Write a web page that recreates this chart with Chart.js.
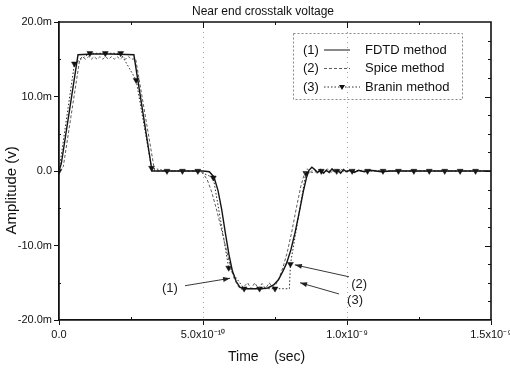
<!DOCTYPE html>
<html>
<head>
<meta charset="utf-8">
<script src="https://cdn.jsdelivr.net/npm/chart.js@4.4.1/dist/chart.umd.min.js"></script>
<style>
  html, body { margin: 0; padding: 0; background: #fff; }
  #wrap { width: 510px; height: 371px; position: relative; }
</style>
</head>
<body>
<div id="wrap"><canvas id="crosstalk" width="510" height="371"></canvas></div>
<script>
// time in ns, amplitude in mV
const fdtdTime = [0, 0.008, 0.066, 0.12, 0.18, 0.26, 0.323, 0.4, 0.5,
  0.522, 0.538, 0.552, 0.565, 0.578, 0.59, 0.602, 0.615, 0.628, 0.64,
  0.7, 0.725, 0.745, 0.762, 0.778, 0.79, 0.805, 0.82, 0.835, 0.848,
  0.86, 0.868, 0.878, 0.888, 0.898, 0.908, 0.918, 0.928, 0.938, 0.948,
  0.958, 0.968, 0.978, 0.988, 0.998, 1.01, 1.025, 1.04, 1.06, 1.08,
  1.1, 1.12, 1.15, 1.2, 1.5];
const fdtdVolt = [0, 1.0, 15.6, 15.7, 15.7, 15.6, 0, 0, 0,
  -0.1, -0.8, -2.6, -5.2, -8.4, -11.2, -13.4, -14.8, -15.6, -15.8,
  -15.8, -15.7, -15.3, -14.6, -13.4, -12.4, -10.6, -8.2, -5.4, -2.8,
  -0.8, 0.1, 0.5, 0.2, -0.2, 0.2, -0.3, 0.1, -0.2, 0.3,
  -0.1, 0.1, -0.3, 0.2, -0.1, 0.1, -0.2, 0.1, -0.1, 0.1,
  0, -0.1, 0, 0, 0];

const spiceTime = [0, 0.015, 0.072,
  0.082, 0.092, 0.102, 0.112, 0.122, 0.132, 0.142, 0.152, 0.162,
  0.172, 0.182, 0.192, 0.202, 0.212, 0.222, 0.232, 0.242, 0.252,
  0.266, 0.332, 0.4, 0.488,
  0.5, 0.515, 0.53, 0.55, 0.57, 0.59, 0.608, 0.622, 0.634, 0.645,
  0.655, 0.667, 0.68, 0.692, 0.705, 0.717, 0.73, 0.74, 0.752, 0.765,
  0.778, 0.792, 0.808, 0.824, 0.84, 0.852, 0.862, 0.872, 0.884, 0.896,
  0.908, 0.92, 0.932, 0.944, 0.956, 0.968, 0.98, 0.995, 1.01, 1.03,
  1.05, 1.07, 1.09, 1.12, 1.16, 1.2, 1.5];
const spiceVolt = [0, 0.6, 15.0,
  15.35, 15.0, 15.35, 15.0, 15.35, 15.0, 15.35, 15.0, 15.35,
  15.0, 15.35, 15.0, 15.35, 15.0, 15.35, 15.0, 15.35, 15.0,
  15.1, 0, 0, 0,
  -0.3, -1.2, -2.8, -5.6, -8.8, -12, -14.4, -15.5, -15.9, -15.4,
  -15.0, -15.8, -15.0, -15.8, -15.1, -15.8, -15.0, -15.6, -15.3, -14.3,
  -12.9, -11.0, -8.2, -5.0, -2.0, -0.4, 0.3, -0.2, 0.3, -0.3,
  0.2, -0.3, 0.3, -0.2, 0.2, -0.2, 0.2, -0.1, 0.2, -0.1,
  0.1, -0.1, 0.1, 0, 0, 0, 0];

const braninStep = 1.5 / 28;
const braninTime = [0, 0.0536, 0.1071, 0.1607, 0.2143, 0.2679, 0.3214, 0.375, 0.4286, 0.4821,
  0.5357, 0.5893, 0.6429, 0.6964, 0.75, 0.80,
  0.8036, 0.8571, 0.9107, 0.9643, 1.0179, 1.0714, 1.125, 1.1786, 1.2321, 1.2857,
  1.3393, 1.3929, 1.4464, 1.5];
const braninVolt = [0, 14.4, 15.8, 15.8, 15.8, 12.2, 0.4, 0, 0, 0,
  -0.9, -13, -15.8, -15.8, -15.8, -15.8,
  -12.5, -0.3, 0, 0, 0, 0, 0, 0, 0, 0,
  0, 0, 0, 0];

const xTicks = [0, 0.5, 1.0, 1.5];
const xTickLabels = ['0.0', '5.0x10\u207B\u00B9\u2070', '1.0x10\u207B\u2079', '1.5x10\u207B\u2079'];
const xMinor = [0.25, 0.75, 1.25];
const yMinor = [-17.5, -15, -12.5, -7.5, -5, -2.5, 2.5, 5, 7.5, 12.5, 15, 17.5];
const gridTimes = [0.5, 1.0];

const seriesNums = ['(1)', '(2)', '(3)'];
const seriesNames = ['FDTD method', 'Spice method', 'Branin method'];

// callouts in data units: label centre, arrow tail, arrow tip
const callouts = [
  { label: '(1)', at: [0.385, -15.7], tail: [0.4375, -15.4], tip: [0.594, -14.4] },
  { label: '(2)', at: [1.042, -15.2], tail: [1.007, -14.2], tip: [0.819, -12.6] },
  { label: '(3)', at: [1.028, -17.4], tail: [0.972, -16.5], tip: [0.837, -15.0] }
];

const FONT = "'Liberation Sans', Arial, sans-serif";
const pts = (xs, ys) => xs.map((t, i) => ({ x: t, y: ys[i] }));
const isMarker = t => Math.abs(t / braninStep - Math.round(t / braninStep)) < 0.002 && t < 1.49;

const styles = [
  { color: '#151515', width: 1.4, dash: [] },
  { color: '#5a5a5a', width: 1, dash: [3, 2] },
  { color: '#2a2a2a', width: 1, dash: [1.5, 2] }
];

function arrow(ctx, x1, y1, x2, y2) {
  ctx.beginPath(); ctx.moveTo(x1, y1); ctx.lineTo(x2, y2); ctx.stroke();
  const a = Math.atan2(y2 - y1, x2 - x1);
  ctx.beginPath();
  ctx.moveTo(x2, y2);
  ctx.lineTo(x2 - 7 * Math.cos(a) + 2.5 * Math.sin(a), y2 - 7 * Math.sin(a) - 2.5 * Math.cos(a));
  ctx.lineTo(x2 - 7 * Math.cos(a) - 2.5 * Math.sin(a), y2 - 7 * Math.sin(a) + 2.5 * Math.cos(a));
  ctx.closePath(); ctx.fill();
}

const extras = {
  id: 'extras',
  beforeDatasetsDraw(chart) {
    const { ctx, chartArea: a, scales: { x } } = chart;
    ctx.save();
    ctx.strokeStyle = '#a0a0a0'; ctx.lineWidth = 1; ctx.setLineDash([1, 4]);
    gridTimes.forEach(t => {
      const px = Math.round(x.getPixelForValue(t)) + 0.5;
      ctx.beginPath(); ctx.moveTo(px, a.top); ctx.lineTo(px, a.bottom); ctx.stroke();
    });
    ctx.restore();
  },
  afterDraw(chart) {
    const { ctx, chartArea: a, scales: { x, y } } = chart;
    ctx.save();
    ctx.strokeStyle = '#111'; ctx.fillStyle = '#111';

    // frame top / right
    ctx.lineWidth = 1.6;
    ctx.beginPath(); ctx.moveTo(a.left, a.top); ctx.lineTo(a.right, a.top); ctx.lineTo(a.right, a.bottom); ctx.stroke();

    // inward ticks
    ctx.lineWidth = 1;
    [0.5, 1.0].forEach(t => {
      const px = Math.round(x.getPixelForValue(t)) + 0.5;
      ctx.beginPath(); ctx.moveTo(px, a.top); ctx.lineTo(px, a.top + 6); ctx.stroke();
    });
    xMinor.forEach(t => {
      const px = Math.round(x.getPixelForValue(t)) + 0.5;
      ctx.beginPath(); ctx.moveTo(px, a.top); ctx.lineTo(px, a.top + 3); ctx.stroke();
      ctx.beginPath(); ctx.moveTo(px, a.bottom); ctx.lineTo(px, a.bottom - 3); ctx.stroke();
    });
    [-10, 0, 10].forEach(v => {
      const py = Math.round(y.getPixelForValue(v)) + 0.5;
      ctx.beginPath(); ctx.moveTo(a.right, py); ctx.lineTo(a.right - 6, py); ctx.stroke();
    });
    yMinor.forEach(v => {
      const py = Math.round(y.getPixelForValue(v)) + 0.5;
      ctx.beginPath(); ctx.moveTo(a.right, py); ctx.lineTo(a.right - 3, py); ctx.stroke();
      if (v % 5 === 0) { ctx.beginPath(); ctx.moveTo(a.left, py); ctx.lineTo(a.left + 2, py); ctx.stroke(); }
    });

    // legend box
    const lx = 293, ly = 33, lw = 169, lh = 66;
    ctx.strokeStyle = '#888'; ctx.lineWidth = 1; ctx.setLineDash([2, 2]);
    ctx.strokeRect(lx + 0.5, ly + 0.5, lw, lh);
    ctx.setLineDash([]);
    ctx.font = '13px ' + FONT; ctx.textBaseline = 'middle'; ctx.textAlign = 'left';
    seriesNames.forEach((name, i) => {
      const ry = ly + 17 + i * 18.5;
      const s = styles[i];
      ctx.fillStyle = '#111';
      ctx.fillText(seriesNums[i], lx + 10, ry);
      const x0 = lx + 31, x1 = lx + (i === 2 ? 67 : 57);
      ctx.strokeStyle = s.color; ctx.lineWidth = 1; ctx.setLineDash(s.dash.length ? s.dash : []);
      ctx.beginPath(); ctx.moveTo(x0, ry); ctx.lineTo(x1, ry); ctx.stroke();
      ctx.setLineDash([]);
      if (i === 2) {
        const mx = (x0 + x1) / 2;
        ctx.beginPath(); ctx.moveTo(mx - 3, ry - 2); ctx.lineTo(mx + 3, ry - 2); ctx.lineTo(mx, ry + 3); ctx.closePath(); ctx.fill();
      }
      ctx.fillText(name, lx + 72, ry);
    });

    // callouts
    ctx.strokeStyle = '#222'; ctx.fillStyle = '#222'; ctx.lineWidth = 0.9;
    ctx.font = '13px ' + FONT; ctx.textAlign = 'center';
    callouts.forEach(c => {
      ctx.fillText(c.label, x.getPixelForValue(c.at[0]), y.getPixelForValue(c.at[1]));
      arrow(ctx, x.getPixelForValue(c.tail[0]), y.getPixelForValue(c.tail[1]),
        x.getPixelForValue(c.tip[0]), y.getPixelForValue(c.tip[1]));
    });

    // titles
    ctx.fillStyle = '#111';
    ctx.font = '12px ' + FONT; ctx.textAlign = 'center';
    ctx.fillText('Near end crosstalk voltage', a.left + 204, 12);
    ctx.font = '14px ' + FONT; ctx.textAlign = 'left';
    ctx.fillText('Time    (sec)', a.left + 169, 357);
    ctx.translate(12, y.getPixelForValue(-2.6));
    ctx.rotate(-Math.PI / 2);
    ctx.font = '15px ' + FONT; ctx.textAlign = 'center';
    ctx.fillText('Amplitude (v)', 0, 0);
    ctx.restore();
  }
};

new Chart(document.getElementById('crosstalk'), {
  type: 'line',
  data: {
    datasets: [
      { label: seriesNames[0], data: pts(fdtdTime, fdtdVolt), borderColor: styles[0].color,
        borderWidth: styles[0].width, pointRadius: 0, tension: 0 },
      { label: seriesNames[1], data: pts(spiceTime, spiceVolt), borderColor: styles[1].color,
        borderWidth: styles[1].width, borderDash: styles[1].dash, pointRadius: 0, tension: 0 },
      { label: seriesNames[2], data: pts(braninTime, braninVolt), borderColor: styles[2].color,
        borderWidth: styles[2].width, borderDash: styles[2].dash, tension: 0,
        pointStyle: 'triangle', rotation: 180, backgroundColor: '#111',
        pointBorderColor: '#111', pointBackgroundColor: '#111', pointBorderWidth: 0.5,
        pointRadius: ctx => isMarker(braninTime[ctx.dataIndex]) ? 3.4 : 0 }
    ]
  },
  options: {
    responsive: false,
    animation: false,
    events: [],
    layout: { padding: { top: 22, right: 19, left: 0, bottom: 0 } },
    plugins: { legend: { display: false }, tooltip: { enabled: false }, title: { display: false } },
    scales: {
      x: {
        type: 'linear', min: 0, max: 1.5,
        afterBuildTicks: s => { s.ticks = xTicks.map(v => ({ value: v })); },
        afterFit: s => { s.height = 51; s.paddingLeft = 0; s.paddingRight = 0; },
        ticks: {
          maxRotation: 0, padding: 3, color: '#111',
          font: { family: FONT, size: 11 },
          callback: v => xTickLabels[xTicks.indexOf(v)]
        },
        grid: { drawOnChartArea: false, drawTicks: true, tickLength: 5, color: '#111', tickWidth: 1 },
        border: { display: true, color: '#111', width: 1.8 }
      },
      y: {
        type: 'linear', min: -20, max: 20,
        ticks: {
          stepSize: 10, padding: 2, color: '#111',
          font: { family: FONT, size: 11 },
          callback: v => v === 0 ? '0.0' : v.toFixed(1) + 'm'
        },
        afterFit: s => { s.width = 59; },
        grid: { drawOnChartArea: false, drawTicks: true, tickLength: 5, color: '#111', tickWidth: 1 },
        border: { display: true, color: '#111', width: 1.8 }
      }
    }
  },
  plugins: [extras]
});
</script>
</body>
</html>
